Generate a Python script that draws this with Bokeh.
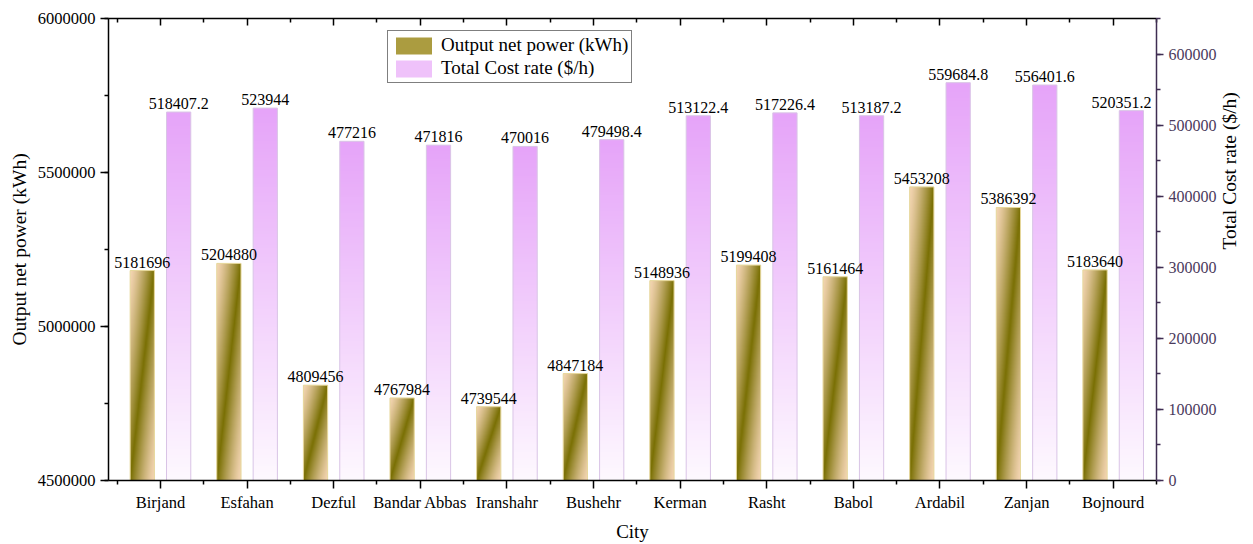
import math
import numpy as np
from bokeh.plotting import figure
from bokeh.models import (ColumnDataSource, LinearAxis, Range1d, FixedTicker,
                          SingleIntervalTicker, Legend, LegendItem, BasicTickFormatter)
from bokeh.core.properties import value
from bokeh.embed import file_html
from bokeh.resources import INLINE

# ---------------- data ----------------
cities = ["Birjand", "Esfahan", "Dezful", "Bandar Abbas", "Iranshahr", "Bushehr",
          "Kerman", "Rasht", "Babol", "Ardabil", "Zanjan", "Bojnourd"]
output_power = [5181696, 5204880, 4809456, 4767984, 4739544, 4847184,
                5148936, 5199408, 5161464, 5453208, 5386392, 5183640]
cost_rate = [518407.2, 523944, 477216, 471816, 470016, 479498.4,
             513122.4, 517226.4, 513187.2, 559684.8, 556401.6, 520351.2]
left_range = (4500000, 6000000)
right_range = (0, 650000)

FONT = "Liberation Serif"
BAR_W = 0.28
OFF = 0.21


def fmt(v):
    s = "%.1f" % v
    return s[:-2] if s.endswith(".0") else s


power_labels = [fmt(v) for v in output_power]
cost_labels = [fmt(v) for v in cost_rate]
pos = [i + 1 for i in range(len(cities))]
# keep the last cost label inside the frame (as in the original)
cost_label_shift = [0] * (len(cities) - 1) + [-10]


# ---------------- gradient images ----------------
def to_rgba(rgb):
    h, w, _ = rgb.shape
    img = np.empty((h, w), dtype=np.uint32)
    view = img.view(dtype=np.uint8).reshape((h, w, 4))
    view[..., 0] = rgb[..., 0]
    view[..., 1] = rgb[..., 1]
    view[..., 2] = rgb[..., 2]
    view[..., 3] = 255
    return img


OW, OH = 24, 200
u = (np.arange(OW) + 0.5) / OW
vv = (np.arange(OH) + 0.5) / OH
U, V = np.meshgrid(u, vv)
t = (U - V + 1) / 2
s = (1 - np.abs(2 * t - 1)) ** 1.3
peach = np.array([245, 214, 180], dtype=float)
olive = np.array([122, 112, 4], dtype=float)
olive_img = to_rgba((peach * (1 - s)[..., None] + olive * s[..., None]).clip(0, 255).astype(np.uint8))

PW, PH = 2, 128
vp = (np.arange(PH) + 0.5) / PH
Vp = np.repeat(vp[:, None], PW, axis=1)
pink_top = np.array([230, 164, 249], dtype=float)
pink_bot = np.array([254, 249, 255], dtype=float)
pink_img = to_rgba((pink_bot * (1 - Vp)[..., None] + pink_top * Vp[..., None]).clip(0, 255).astype(np.uint8))

# ---------------- figure ----------------
p = figure(width=1253, height=544, x_range=Range1d(0.4, 12.5),
           y_range=Range1d(*left_range), output_backend="svg", toolbar_location=None,
           min_border_left=108, min_border_right=92, min_border_top=18, min_border_bottom=64)
p.extra_y_ranges = {"right": Range1d(*right_range)}
p.xgrid.visible = False
p.ygrid.visible = False
p.outline_line_color = None
p.background_fill_color = "white"

olive_src = ColumnDataSource(dict(
    image=[olive_img] * len(cities),
    x=[x - OFF - BAR_W / 2 for x in pos],
    y=[left_range[0]] * len(cities),
    dw=[BAR_W] * len(cities),
    dh=[v - left_range[0] for v in output_power],
))
p.image_rgba(image="image", x="x", y="y", dw="dw", dh="dh", source=olive_src)

pink_src = ColumnDataSource(dict(
    image=[pink_img] * len(cities),
    x=[x + OFF - BAR_W / 2 for x in pos],
    y=[right_range[0]] * len(cities),
    dw=[BAR_W] * len(cities),
    dh=[v - right_range[0] for v in cost_rate],
))
p.image_rgba(image="image", x="x", y="y", dw="dw", dh="dh", source=pink_src, y_range_name="right")

# outlines
p.vbar(x=[x - OFF for x in pos], top=output_power, bottom=left_range[0], width=BAR_W,
       fill_alpha=0, line_color="#e6d79a", line_width=1)
p.vbar(x=[x + OFF for x in pos], top=cost_rate, bottom=right_range[0], width=BAR_W,
       fill_alpha=0, line_color="#d9c4e6", line_width=1, y_range_name="right")

# value labels
p.text(x=[x - OFF for x in pos], y=output_power, text=power_labels,
       text_align="center", text_baseline="bottom", y_offset=-3,
       text_font=value(FONT), text_font_size="16px", text_color="black")
cost_src = ColumnDataSource(dict(x=[x + OFF for x in pos], y=cost_rate, text=cost_labels,
                                 dx=cost_label_shift))
p.text(x="x", y="y", text="text", source=cost_src, x_offset="dx",
       text_align="center", text_baseline="bottom", y_offset=-3,
       text_font=value(FONT), text_font_size="16px", text_color="black",
       y_range_name="right")

# legend (solid swatches; zero-height bars so nothing shows in the plot)
r1 = p.vbar(x=[pos[0]], top=[left_range[0]], bottom=left_range[0], width=0.1,
            fill_color="#ab9c40", line_color=None)
r2 = p.vbar(x=[pos[0]], top=[left_range[0]], bottom=left_range[0], width=0.1,
            fill_color="#efc2fa", line_color=None)
legend = Legend(items=[LegendItem(label="Output net power (kWh)", renderers=[r1]),
                       LegendItem(label="Total Cost rate ($/h)", renderers=[r2])],
                location=(279, 397), glyph_width=45, glyph_height=21, label_height=21,
                spacing=1, padding=3, margin=0, label_standoff=5,
                label_text_font=FONT, label_text_font_size="19px", label_text_color="black",
                border_line_color="black", border_line_width=1)
p.add_layout(legend)

# ---------------- axes ----------------
xticker = FixedTicker(ticks=pos, minor_ticks=[x - 0.5 for x in pos] + [pos[-1] + 0.5])

xa = p.xaxis[0]
xa.ticker = xticker
xa.major_label_overrides = {x: c for x, c in zip(pos, cities)}
xa.axis_label = "City"
xa.axis_label_text_font = FONT
xa.axis_label_text_font_style = "normal"
xa.axis_label_text_font_size = "19px"
xa.axis_label_text_color = "black"
xa.axis_label_standoff = 6
xa.major_label_text_font = FONT
xa.major_label_text_font_size = "16.5px"
xa.major_label_text_color = "black"
xa.major_label_standoff = 4
xa.major_tick_in = 0
xa.major_tick_out = 8
xa.minor_tick_in = 0
xa.minor_tick_out = 4
xa.axis_line_width = 1.5
xa.major_tick_line_width = 1.5
xa.minor_tick_line_width = 1.5

top = LinearAxis(ticker=xticker, major_label_text_font_size="1px", major_label_standoff=0,
                 major_label_text_color=None,
                 major_tick_in=7, major_tick_out=0, minor_tick_in=4, minor_tick_out=0,
                 axis_line_width=1.5, major_tick_line_width=1.5, minor_tick_line_width=1.5)
p.add_layout(top, "above")

ya = p.yaxis[0]
ya.ticker = SingleIntervalTicker(interval=500000, num_minor_ticks=2)
ya.formatter = BasicTickFormatter(use_scientific=False)
ya.axis_label = "Output net power (kWh)"
ya.axis_label_text_font = FONT
ya.axis_label_text_font_style = "normal"
ya.axis_label_text_font_size = "19.5px"
ya.axis_label_text_color = "black"
ya.axis_label_standoff = 5
ya.major_label_text_font = FONT
ya.major_label_text_font_size = "16.5px"
ya.major_label_text_color = "black"
ya.major_label_standoff = 5
ya.major_tick_in = 0
ya.major_tick_out = 8
ya.minor_tick_in = 0
ya.minor_tick_out = 4
ya.axis_line_width = 1.5
ya.major_tick_line_width = 1.5
ya.minor_tick_line_width = 1.5

RC = "#3f2d52"
ra = LinearAxis(y_range_name="right",
                ticker=SingleIntervalTicker(interval=100000, num_minor_ticks=2),
                formatter=BasicTickFormatter(use_scientific=False),
                axis_label="Total Cost rate ($/h)", axis_label_text_font=FONT,
                axis_label_text_font_style="normal", axis_label_text_font_size="19.5px",
                axis_label_standoff=10, axis_label_text_color="black",
                axis_label_text_line_height=0.5,
                major_label_text_font=FONT, major_label_text_font_size="16px",
                major_label_text_color="#4a3a5c", major_label_standoff=5,
                major_tick_in=0, major_tick_out=7, minor_tick_in=0, minor_tick_out=4,
                axis_line_color=RC, major_tick_line_color=RC, minor_tick_line_color=RC,
                axis_line_width=1.5, major_tick_line_width=1.5, minor_tick_line_width=1.5)
try:
    ra.axis_label_orientation = math.pi / 2
except Exception:
    pass
p.add_layout(ra, "right")

open("out.html", "w").write(file_html(p, INLINE))
